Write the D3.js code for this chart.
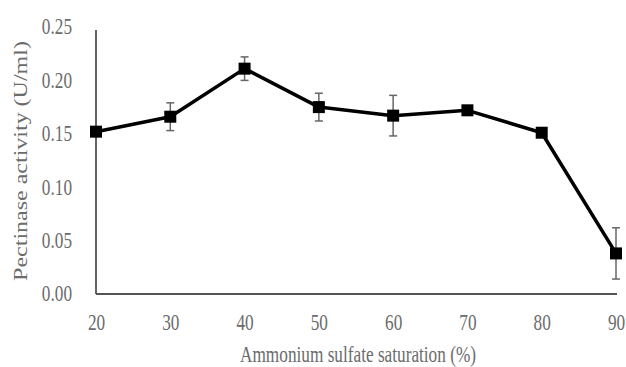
<!DOCTYPE html>
<html>
<head>
<meta charset="utf-8">
<script src="https://cdn.jsdelivr.net/npm/d3@7"></script>
<style>
  body { margin: 0; background: #fff; }
  svg text { font-family: "Liberation Serif", "Times New Roman", serif; fill: #6b6b6b; }
</style>
</head>
<body>
<svg width="626" height="367"></svg>
<script>
let saturation = [20, 30, 40, 50, 60, 70, 80, 90];
let activity = [0.152, 0.166, 0.211, 0.175, 0.167, 0.172, 0.151, 0.038];
let errors = [0.003, 0.013, 0.011, 0.013, 0.019, 0.003, 0.003, 0.024];
let yTicks = [0, 0.05, 0.10, 0.15, 0.20, 0.25];

let squeeze = 0.75;

let svg = d3.select('svg');

let x = d3.scaleLinear().domain([20, 90]).range([96, 616]);
let y = d3.scaleLinear().domain([0, 0.25]).range([294, 27]);

// y axis
let yAxis = svg.append('g')
  .attr('transform', 'translate(96,0)')
  .call(d3.axisLeft(y).tickValues(yTicks).tickFormat(d3.format('.2f')).tickSize(0));
yAxis.select('.domain').remove();
yAxis.selectAll('text')
  .style('font-size', '23px')
  .attr('fill', '#6b6b6b')
  .attr('x', -24 / squeeze)
  .attr('dy', '0.3em')
  .attr('transform', `scale(${squeeze},1)`);

svg.append('line')
  .attr('x1', 96).attr('x2', 96)
  .attr('y1', 30).attr('y2', y(0))
  .attr('stroke', '#111').attr('stroke-width', 1.3);

// x axis
let xAxis = svg.append('g')
  .attr('transform', `translate(0,${y(0)})`)
  .call(d3.axisBottom(x).tickValues(saturation).tickSize(0));
xAxis.select('.domain').remove();
xAxis.selectAll('text')
  .style('font-size', '23px')
  .attr('fill', '#6b6b6b')
  .attr('y', 36)
  .attr('dy', 0)
  .attr('transform', `scale(${squeeze},1)`);

svg.append('line')
  .attr('x1', 96).attr('x2', 617)
  .attr('y1', y(0)).attr('y2', y(0))
  .attr('stroke', '#555').attr('stroke-width', 2);

// titles
svg.append('text')
  .attr('transform', `translate(358,362) scale(${squeeze},1)`)
  .attr('text-anchor', 'middle')
  .style('font-size', '23px')
  .text('Ammonium sulfate saturation (%)');

svg.append('text')
  .attr('transform', `translate(27,161) rotate(-90) scale(1,${squeeze})`)
  .attr('text-anchor', 'middle')
  .style('font-size', '24px')
  .text('Pectinase activity (U/ml)');

let pts = saturation.map((s, i) => ({ s: s, v: activity[i], e: errors[i] }));

// error bars
let eb = svg.append('g').attr('stroke', '#666').attr('stroke-width', 1.5);
eb.selectAll('line.bar').data(pts).enter().append('line')
  .attr('x1', d => x(d.s)).attr('x2', d => x(d.s))
  .attr('y1', d => y(d.v + d.e)).attr('y2', d => y(d.v - d.e));
eb.selectAll('line.top').data(pts).enter().append('line')
  .attr('x1', d => x(d.s) - 4).attr('x2', d => x(d.s) + 4)
  .attr('y1', d => y(d.v + d.e)).attr('y2', d => y(d.v + d.e));
eb.selectAll('line.bot').data(pts).enter().append('line')
  .attr('x1', d => x(d.s) - 4).attr('x2', d => x(d.s) + 4)
  .attr('y1', d => y(d.v - d.e)).attr('y2', d => y(d.v - d.e));

// line
let line = d3.line().x(d => x(d.s)).y(d => y(d.v));
svg.append('path')
  .datum(pts)
  .attr('d', line)
  .attr('fill', 'none')
  .attr('stroke', '#000')
  .attr('stroke-width', 3.5)
  .attr('stroke-linejoin', 'round');

// markers
svg.selectAll('rect.mk').data(pts).enter().append('rect')
  .attr('x', d => x(d.s) - 6)
  .attr('y', d => y(d.v) - 6)
  .attr('width', 12).attr('height', 12)
  .attr('fill', '#000');
</script>
</body>
</html>
